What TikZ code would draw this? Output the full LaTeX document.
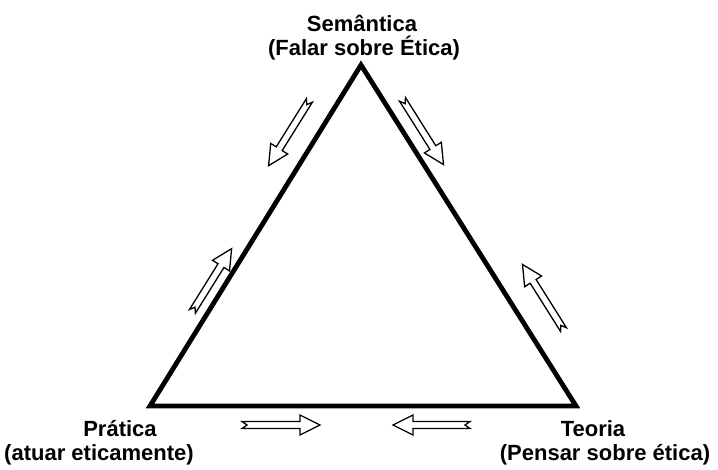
\documentclass[tikz,border=0pt]{standalone}
\usepackage{fontspec}
\setmainfont{Liberation Sans}
\begin{document}
\begin{tikzpicture}[x=1pt,y=1pt,
  lbl/.style={font=\bfseries\fontsize{22}{26}\selectfont, inner sep=0pt, anchor=base},
  tri/.style={line width=4.8pt, line join=miter},
  barrow/.style={draw=black, fill=white, line width=1.3pt, line join=miter}]
\useasboundingbox (0,0) rectangle (718,470);
\coordinate (apex) at (361,405);
\coordinate (bl) at (150,64);
\coordinate (br) at (576,64);
\draw[tri] (apex) -- (bl) -- (br) -- cycle;
\newcommand\BArrow[4]{%
  \draw[barrow, shift={(#1,#2)}, rotate=#3]
    (0,3.5) -- ({#4-20},3.5) -- ({#4-20},10) -- (#4,0) -- ({#4-20},-10) -- ({#4-20},-3.5) -- (0,-3.5) -- (5,0) -- cycle;}
\BArrow{309.4}{369.6}{238}{77}
\BArrow{402.5}{370.6}{-57.8}{77}
\BArrow{192.4}{158.6}{58}{74}
\BArrow{563.5}{140.4}{122.2}{77}
\BArrow{242}{45}{0}{78}
\BArrow{470}{45}{180}{77}
\node[lbl] (sem1) at (362,438) {Semântica};
\node[lbl] (sem2) at (364,414) {(Falar sobre Ética)};
\node[lbl] (pra1) at (120,33) {Prática};
\node[lbl] (pra2) at (99,9) {(atuar eticamente)};
\node[lbl] (teo1) at (593,33) {Teoria};
\node[lbl] (teo2) at (605,9) {(Pensar sobre ética)};
\end{tikzpicture}
\end{document}
